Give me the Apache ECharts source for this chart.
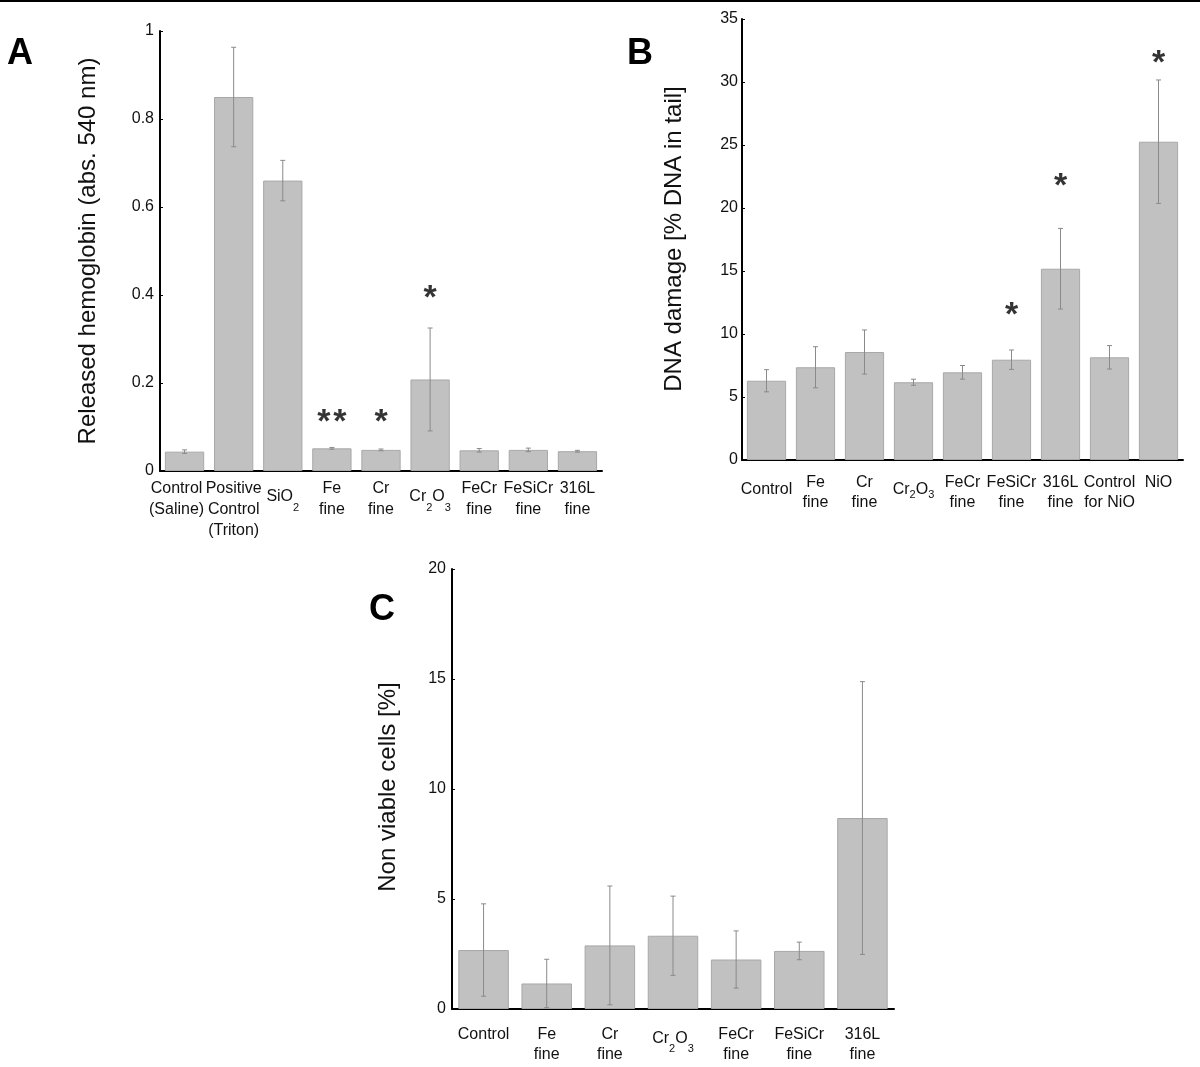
<!DOCTYPE html>
<html><head><meta charset="utf-8">
<script src="https://cdn.jsdelivr.net/npm/echarts@6/dist/echarts.min.js"></script>
<style>html,body{margin:0;padding:0;background:#fff}#c{width:1200px;height:1067px}</style>
</head><body><div id="c"></div>
<script>
// ---------- Panel A: hemolysis ----------
const catsA = ['Control\n(Saline)', 'Positive\nControl\n(Triton)', 'SiO2', 'Fe\nfine', 'Cr\nfine', 'Cr2O3', 'FeCr\nfine', 'FeSiCr\nfine', '316L\nfine'];
const meanA = [0.044, 0.85, 0.66, 0.0515, 0.048, 0.208, 0.047, 0.048, 0.045];
const sdA   = [0.004, 0.113, 0.046, 0.002, 0.002, 0.117, 0.004, 0.004, 0.002];
const starA  = ['', '', '', '**', '*', '*', '', '', ''];
const starYA = [null, null, null, 0.127, 0.127, 0.411, null, null, null];
const yTitleA = 'Released hemoglobin (abs. 540 nm)';

// ---------- Panel B: DNA damage ----------
const catsB = ['Control', 'Fe\nfine', 'Cr\nfine', 'Cr2O3', 'FeCr\nfine', 'FeSiCr\nfine', '316L\nfine', 'Control\nfor NiO', 'NiO'];
const meanB = [6.29, 7.36, 8.57, 6.17, 6.96, 7.96, 15.18, 8.15, 25.26];
const sdB   = [0.88, 1.63, 1.75, 0.24, 0.54, 0.77, 3.2, 0.93, 4.9];
const starB  = ['', '', '', '', '', '*', '*', '', '*'];
const starYB = [null, null, null, null, null, 12.06, 22.3, null, 32.1];
const yTitleB = 'DNA damage [% DNA in tail]';

// ---------- Panel C: viability ----------
const catsC = ['Control', 'Fe\nfine', 'Cr\nfine', 'Cr2O3', 'FeCr\nfine', 'FeSiCr\nfine', '316L\nfine'];
const meanC = [2.68, 1.16, 2.89, 3.33, 2.25, 2.64, 8.68];
const sdC   = [2.1, 1.1, 2.7, 1.8, 1.3, 0.4, 6.2];
const yTitleC = 'Non viable cells [%]';

const panelLetters = ['A', 'B', 'C'];

const FONT = '"Liberation Sans", Arial, sans-serif';
const TXT = '#111';

// padding-top P shifts a token down by P/2
function richFor(shift, subOff, lh) {
  return {
    n: {fontSize: 16, lineHeight: lh, padding: [2 * shift, 0, 0, 0], color: TXT, fontFamily: FONT},
    s: {fontSize: 11, lineHeight: 12, padding: [2 * (shift + subOff), 0, 0, 0], color: TXT, fontFamily: FONT},
    c: {fontSize: 16, lineHeight: lh, padding: [14, 0, 0, 0], color: TXT, fontFamily: FONT},
    l: {fontSize: 16, lineHeight: lh, padding: [0, 16, 0, 0], color: TXT, fontFamily: FONT}
  };
}
function subFmt(v) {
  if (/[A-Za-z]\d/.test(v)) return v.replace(/([A-Za-z]+)(\d)/g, '{n|$1}{s|$2}');
  return v;
}
function fmtA(v, i) {
  if (i === 0) return v.split('\n').map(t => '{l|' + t + '}').join('\n');
  return subFmt(v);
}
function fmtB(v) {
  if (v === 'Control') return '{c|Control}';
  return subFmt(v);
}

function xAxis(gi, cats, margin, lh, rich, fmt) {
  return {
    gridIndex: gi, type: 'category', data: cats,
    axisLine: {lineStyle: {color: '#000', width: 2}},
    axisTick: {show: false},
    axisLabel: {interval: 0, margin: margin, fontSize: 16, lineHeight: lh, color: TXT, fontFamily: FONT,
      formatter: fmt, rich: rich}
  };
}
function yAxis(gi, max, interval, margin) {
  return {
    gridIndex: gi, type: 'value', min: 0, max: max, interval: interval,
    axisLine: {show: true, lineStyle: {color: '#000', width: 2}},
    axisTick: {show: true, inside: true, length: 3, lineStyle: {color: '#000', width: 1}},
    splitLine: {show: false},
    axisLabel: {fontSize: 16, color: TXT, margin: margin, fontFamily: FONT}
  };
}
function barSeries(i, means) {
  return {
    type: 'bar', xAxisIndex: i, yAxisIndex: i, data: means, barWidth: '80%',
    itemStyle: {color: '#c1c1c1', borderColor: '#a8a8a8', borderWidth: 1},
    silent: true, z: 2
  };
}
function errSeries(i, means, sds) {
  return {
    type: 'custom', xAxisIndex: i, yAxisIndex: i, z: 5, silent: true,
    encode: {x: 0, y: [1, 2]},
    data: means.map((m, k) => [k, m - sds[k], m + sds[k]]),
    renderItem(params, api) {
      const lo = api.coord([api.value(0), api.value(1)]);
      const hi = api.coord([api.value(0), api.value(2)]);
      const c = 2.5;
      const st = {stroke: '#8a8a8a', lineWidth: 1};
      return {type: 'group', children: [
        {type: 'line', shape: {x1: hi[0], y1: hi[1], x2: lo[0], y2: lo[1]}, style: st},
        {type: 'line', shape: {x1: hi[0] - c, y1: hi[1], x2: hi[0] + c, y2: hi[1]}, style: st},
        {type: 'line', shape: {x1: lo[0] - c, y1: lo[1], x2: lo[0] + c, y2: lo[1]}, style: st}
      ]};
    }
  };
}
function starSeries(i, stars, ys) {
  return {
    type: 'scatter', xAxisIndex: i, yAxisIndex: i, z: 6, silent: true,
    symbolSize: 2, itemStyle: {color: 'rgba(0,0,0,0)'},
    data: ys.map((y, k) => y == null ? null : [k, y]).filter(d => d),
    label: {show: true, position: 'inside', offset: [0, 8],
      formatter: p => stars[p.value[0]].split('').join('\u200A'),
      fontSize: 34, fontWeight: 'bold', color: '#000', fontFamily: FONT}
  };
}
function title(x, y, text, size) {
  return {type: 'text', x: x, y: y, rotation: Math.PI / 2,
    style: {text: text, fontSize: size, fontFamily: FONT, fill: TXT,
      align: 'center', verticalAlign: 'middle', textAlign: 'center', textVerticalAlign: 'middle'}};
}
function letter(x, y, text) {
  return {type: 'text', x: x, y: y,
    style: {text: text, fontSize: 36, fontWeight: 'bold', fontFamily: FONT, fill: '#000'}};
}

const richA = richFor(8, 11, 21);
const richB = richFor(7, 5, 20);
const richC = richFor(4, 10, 20);

const chart = echarts.init(document.getElementById('c'), null, {renderer: 'canvas'});
chart.setOption({
  animation: false,
  backgroundColor: '#fff',
  grid: [
    {left: 160, top: 31, width: 442, height: 440},
    {left: 742, top: 19, width: 441, height: 441},
    {left: 452, top: 569, width: 442, height: 440}
  ],
  xAxis: [
    xAxis(0, catsA, 7, 21, richA, fmtA),
    xAxis(1, catsB, 13, 20, richB, fmtB),
    xAxis(2, catsC, 16, 20, richC, subFmt)
  ],
  yAxis: [yAxis(0, 1, 0.2, 6), yAxis(1, 35, 5, 4), yAxis(2, 20, 5, 6)],
  series: [
    barSeries(0, meanA), errSeries(0, meanA, sdA), starSeries(0, starA, starYA),
    barSeries(1, meanB), errSeries(1, meanB, sdB), starSeries(1, starB, starYB),
    barSeries(2, meanC), errSeries(2, meanC, sdC)
  ],
  graphic: [
    {type: 'rect', shape: {x: 0, y: 0, width: 1200, height: 2}, style: {fill: '#000'}},
    title(88, 251, yTitleA, 24),
    title(674, 239, yTitleB, 24),
    title(388, 787, yTitleC, 24),
    letter(7, 36, panelLetters[0]),
    letter(627, 36, panelLetters[1]),
    letter(369, 592, panelLetters[2])
  ]
});
</script>
</body></html>
